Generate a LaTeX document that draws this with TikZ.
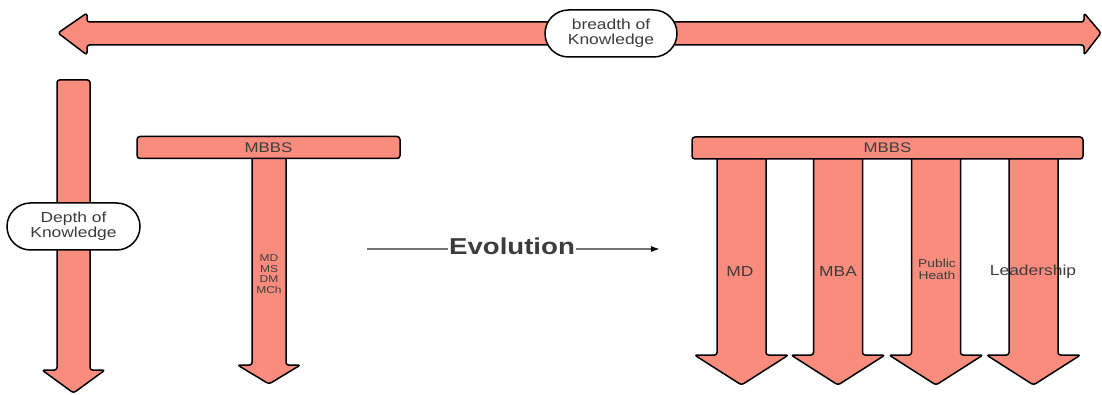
\documentclass[tikz,border=0pt]{standalone}
\usepackage{fontspec}
\setmainfont[FakeStretch=1.2]{Liberation Sans}
\usetikzlibrary{arrows.meta,shapes.misc}
\definecolor{salmon}{RGB}{250,140,126}
\definecolor{txt}{RGB}{60,60,60}
\definecolor{evoline}{RGB}{115,115,115}
\newcommand\dnarrow[6]{\path[arrowshape] ({#1-#2},#4) -- ({#1+#2},#4) -- ({#1+#2},#5) -- ({#1+#3},#5) -- (#1,#6) -- ({#1-#3},#5) -- ({#1-#2},#5) -- cycle;}
\begin{document}
\begin{tikzpicture}[x=1pt,y=-1pt,
  arrowshape/.style={draw=black,fill=salmon,line width=1.5pt,line join=round,rounded corners=2.5pt},
  bar/.style={draw=black,fill=salmon,line width=1.5pt,rounded corners=3pt,minimum height=22pt,inner sep=0pt,text=txt,font=\fontsize{14}{15}\selectfont},
  pill/.style={rounded rectangle,draw=black,fill=white,line width=1.5pt,minimum width=132pt,minimum height=47pt,inner sep=0pt,align=center,text=txt,font=\fontsize{14.5}{15.5}\selectfont},
  lab/.style={text=txt,align=center,inner sep=0pt,font=\fontsize{14.5}{15.5}\selectfont}]
\useasboundingbox (0,0) rectangle (1102,395);
% horizontal double arrow
\path[arrowshape] (58,33) -- (87,13) -- (87,22) -- (1084,22) -- (1084,13) -- (1101,33) -- (1084,55) -- (1084,45) -- (87,45) -- (87,55) -- cycle;
\node[pill] (breadth) at (611,33.5) {breadth of\\Knowledge};
% depth arrow
\dnarrow{73.5}{16.5}{31.5}{80}{370}{393}
\node[pill,minimum width=133pt] (depth) at (73.5,226.5) {Depth of\\Knowledge};
% left T
\dnarrow{269}{17}{31.5}{150}{365}{384}
\node[bar,minimum width=263pt] (mbbsL) at (268.5,147.5) {MBBS};
\node[lab,font=\fontsize{10}{10.5}\selectfont] (mdms) at (269,274) {MD\\MS\\DM\\MCh};
% evolution
\coordinate (evoL) at (367,249);
\coordinate (evoR) at (660,249);
\node[inner sep=1pt,text=txt,font=\fontsize{23}{24}\selectfont\bfseries] (evo) at (512,246.5) {Evolution};
\draw[evoline,line width=1.5pt] (evoL) -- (evo.west|-evoL);
\draw[evoline,line width=1.5pt,-{Latex[length=9pt,width=6pt,color=black]}] (evo.east|-evoL) -- (evoR);
% right T
\dnarrow{741.5}{24.5}{47}{150}{355}{385}
\dnarrow{838}{24.5}{47}{150}{355}{385}
\dnarrow{936}{24.5}{47}{150}{355}{385}
\dnarrow{1033.5}{24.5}{47}{150}{355}{385}
\node[bar,minimum width=391pt] (mbbsR) at (887.5,148) {MBBS};
\node[lab] (md) at (740,272) {MD};
\node[lab] (mba) at (838,272) {MBA};
\node[lab,font=\fontsize{11.5}{12}\selectfont] (ph) at (937,269) {Public\\Heath};
\node[lab] (lead) at (1033,272) {Leadership};
\end{tikzpicture}
\end{document}
